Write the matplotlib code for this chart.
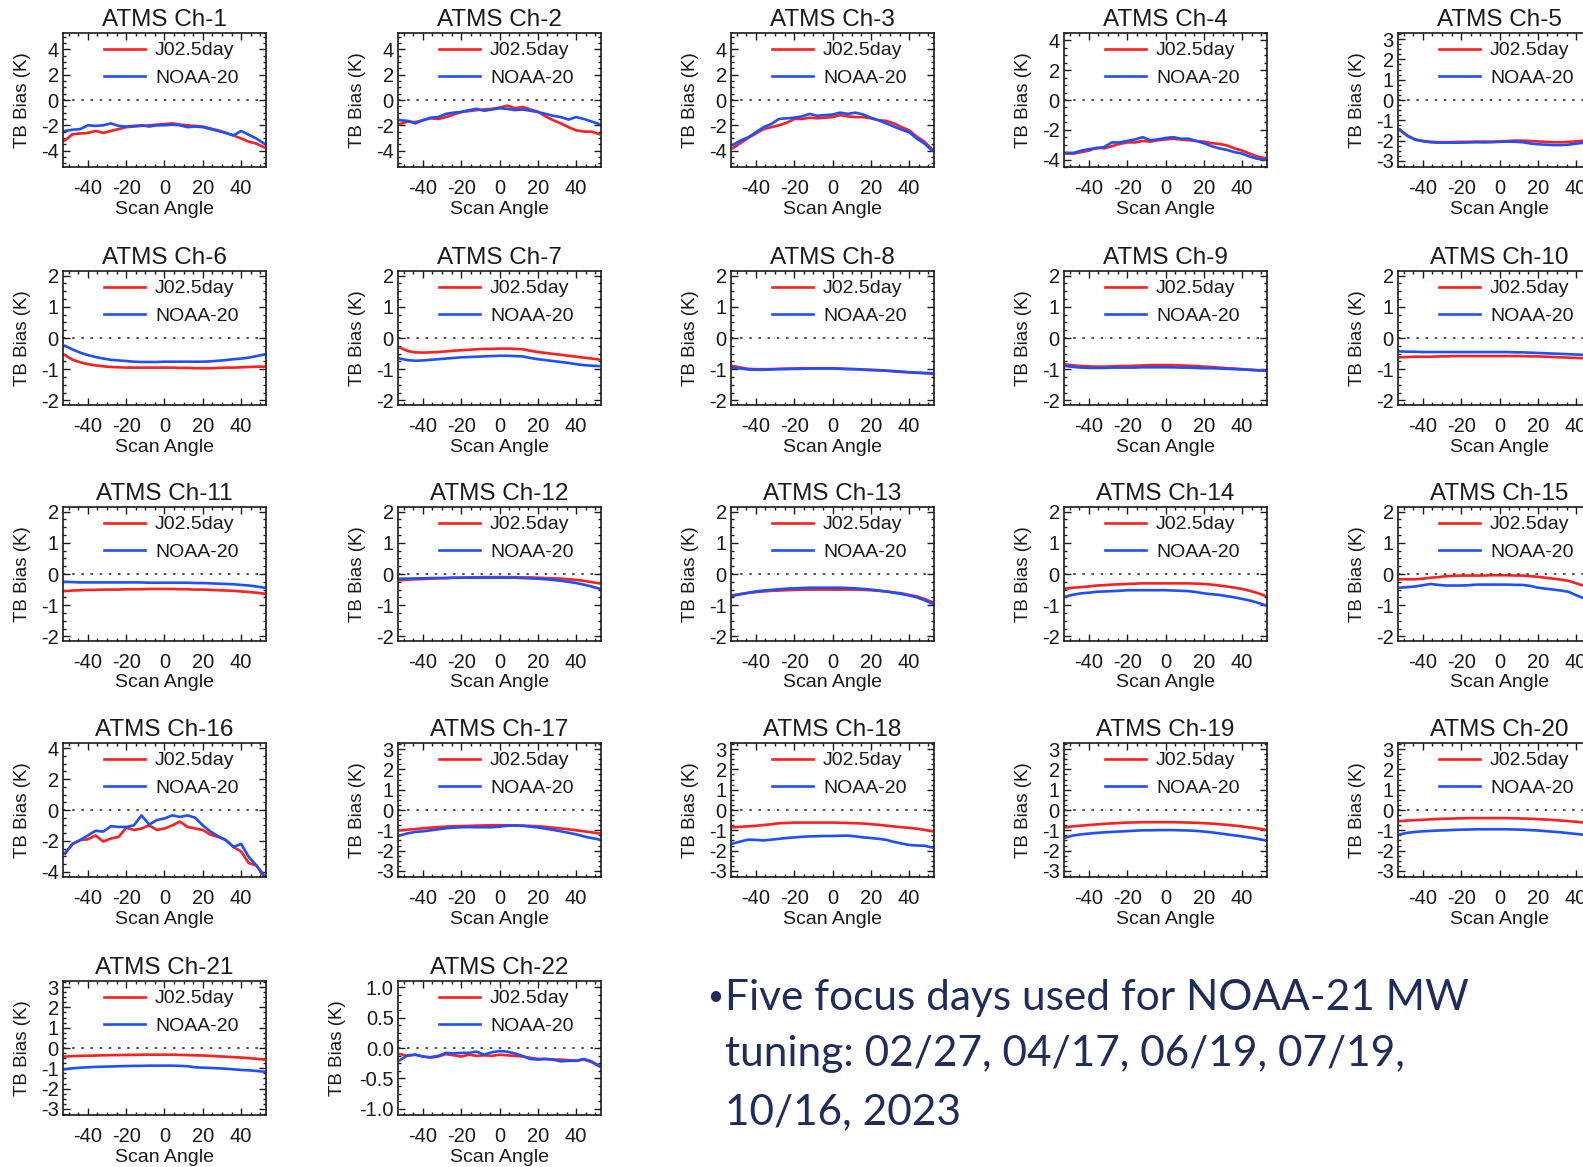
import matplotlib
matplotlib.use("Agg")
import matplotlib.pyplot as plt
from matplotlib.ticker import FixedLocator, MultipleLocator, AutoMinorLocator

plt.rcParams['font.family'] = ['Liberation Sans', 'DejaVu Sans']
plt.rcParams['axes.unicode_minus'] = False

# scan angle grid (deg)
scan_angle = [-52, -48, -44, -40, -36, -32, -28, -24, -20, -16, -12, -8, -4, 0,
              4, 8, 12, 16, 20, 24, 28, 32, 36, 40, 44, 48, 52]

# TB bias (K), red = J02.5day, blue = NOAA-20
j02_ch1 = [-3.2, -2.7, -2.65, -2.6, -2.45, -2.6, -2.45, -2.3, -2.15, -2.1, -2.05, -2.0, -1.95, -1.9,
           -1.85, -1.95, -2.0, -2.05, -2.1, -2.25, -2.4, -2.6, -2.8, -3.05, -3.3, -3.45, -3.75]
n20_ch1 = [-2.45, -2.35, -2.3, -2.0, -2.05, -2.0, -1.85, -2.05, -2.1, -2.05, -2.0, -2.1, -2.0, -2.0,
           -1.95, -2.0, -2.15, -2.1, -2.15, -2.3, -2.45, -2.6, -2.8, -2.45, -2.75, -3.05, -3.45]
j02_ch2 = [-1.9, -1.7, -1.75, -1.6, -1.45, -1.5, -1.35, -1.15, -0.95, -0.88, -0.8, -0.75, -0.7, -0.6,
           -0.45, -0.65, -0.55, -0.75, -0.92, -1.3, -1.6, -1.85, -2.15, -2.4, -2.5, -2.5, -2.7]
n20_ch2 = [-1.6, -1.65, -1.85, -1.6, -1.4, -1.35, -1.1, -1.0, -0.95, -0.8, -0.7, -0.85, -0.75, -0.65,
           -0.7, -0.8, -0.75, -0.85, -0.95, -1.1, -1.25, -1.35, -1.55, -1.35, -1.5, -1.7, -1.9]
j02_ch3 = [-3.8, -3.4, -3.0, -2.65, -2.3, -2.15, -2.0, -1.8, -1.5, -1.5, -1.4, -1.45, -1.4, -1.35,
           -1.2, -1.3, -1.35, -1.35, -1.45, -1.6, -1.65, -1.85, -2.15, -2.4, -2.9, -3.3, -3.9]
n20_ch3 = [-3.55, -3.2, -2.95, -2.55, -2.15, -1.9, -1.5, -1.45, -1.4, -1.3, -1.1, -1.25, -1.2, -1.15,
           -1.0, -1.1, -1.0, -1.15, -1.4, -1.6, -1.85, -2.1, -2.35, -2.55, -3.05, -3.45, -4.0]
j02_ch4 = [-3.6, -3.6, -3.5, -3.4, -3.2, -3.25, -3.1, -2.95, -2.85, -2.85, -2.75, -2.8, -2.7, -2.65,
           -2.6, -2.65, -2.7, -2.75, -2.8, -2.9, -2.95, -3.05, -3.25, -3.4, -3.6, -3.8, -3.9]
n20_ch4 = [-3.55, -3.55, -3.4, -3.3, -3.25, -3.15, -2.85, -2.85, -2.75, -2.65, -2.5, -2.7, -2.65, -2.55,
           -2.5, -2.6, -2.6, -2.75, -2.9, -3.1, -3.25, -3.35, -3.5, -3.6, -3.8, -3.95, -4.0]
j02_ch5 = [-1.5, -1.75, -1.95, -2.02, -2.06, -2.08, -2.08, -2.07, -2.06, -2.06, -2.05, -2.05, -2.05, -2.04,
           -2.02, -2.0, -2.0, -2.02, -2.04, -2.06, -2.08, -2.08, -2.06, -2.04, -2.0, -1.95, -1.9]
n20_ch5 = [-1.45, -1.78, -1.95, -2.03, -2.08, -2.1, -2.1, -2.1, -2.1, -2.09, -2.08, -2.09, -2.08, -2.06,
           -2.05, -2.06, -2.08, -2.14, -2.18, -2.2, -2.22, -2.22, -2.2, -2.15, -2.1, -2.05, -1.98]
j02_ch6 = [-0.55, -0.7, -0.78, -0.84, -0.88, -0.91, -0.93, -0.94, -0.95, -0.95, -0.95, -0.95, -0.95, -0.95,
           -0.95, -0.96, -0.96, -0.97, -0.97, -0.97, -0.96, -0.95, -0.95, -0.94, -0.93, -0.92, -0.92]
n20_ch6 = [-0.25, -0.37, -0.47, -0.55, -0.61, -0.66, -0.7, -0.72, -0.74, -0.76, -0.77, -0.77, -0.77, -0.76,
           -0.76, -0.76, -0.76, -0.76, -0.76, -0.75, -0.73, -0.71, -0.68, -0.66, -0.63, -0.58, -0.53]
j02_ch7 = [-0.31, -0.42, -0.46, -0.47, -0.46, -0.45, -0.43, -0.41, -0.39, -0.38, -0.36, -0.35, -0.35, -0.34,
           -0.34, -0.35, -0.36, -0.41, -0.45, -0.48, -0.51, -0.54, -0.57, -0.6, -0.63, -0.66, -0.69]
n20_ch7 = [-0.66, -0.71, -0.73, -0.72, -0.7, -0.68, -0.66, -0.64, -0.62, -0.61, -0.6, -0.59, -0.58, -0.57,
           -0.57, -0.58, -0.59, -0.64, -0.68, -0.71, -0.74, -0.77, -0.8, -0.84, -0.87, -0.89, -0.9]
j02_ch8 = [-0.9, -0.95, -0.99, -1.0, -1.0, -1.0, -0.99, -0.98, -0.98, -0.97, -0.97, -0.97, -0.97, -0.97,
           -0.98, -0.99, -1.0, -1.01, -1.02, -1.03, -1.05, -1.07, -1.09, -1.1, -1.12, -1.13, -1.15]
n20_ch8 = [-0.95, -0.98, -1.01, -1.02, -1.02, -1.01, -1.0, -1.0, -0.99, -0.99, -0.98, -0.98, -0.98, -0.98,
           -0.99, -1.0, -1.0, -1.02, -1.03, -1.04, -1.05, -1.06, -1.08, -1.1, -1.11, -1.12, -1.13]
j02_ch9 = [-0.85, -0.88, -0.9, -0.91, -0.92, -0.92, -0.91, -0.9, -0.9, -0.89, -0.88, -0.87, -0.87, -0.87,
           -0.87, -0.88, -0.89, -0.9, -0.92, -0.93, -0.95, -0.97, -0.98, -1.0, -1.02, -1.03, -1.05]
n20_ch9 = [-0.9, -0.93, -0.95, -0.96, -0.96, -0.96, -0.95, -0.95, -0.95, -0.95, -0.94, -0.94, -0.94, -0.94,
           -0.94, -0.95, -0.95, -0.96, -0.97, -0.97, -0.98, -0.99, -1.0, -1.01, -1.02, -1.04, -1.05]
j02_ch10 = [-0.62, -0.61, -0.6, -0.6, -0.6, -0.59, -0.59, -0.58, -0.58, -0.58, -0.58, -0.58, -0.58, -0.58,
            -0.58, -0.58, -0.58, -0.59, -0.59, -0.6, -0.61, -0.62, -0.63, -0.64, -0.65, -0.67, -0.69]
n20_ch10 = [-0.43, -0.44, -0.44, -0.45, -0.45, -0.45, -0.45, -0.45, -0.45, -0.45, -0.45, -0.45, -0.45, -0.45,
            -0.45, -0.46, -0.46, -0.47, -0.48, -0.49, -0.5, -0.51, -0.52, -0.53, -0.54, -0.55, -0.56]
j02_ch11 = [-0.55, -0.53, -0.52, -0.51, -0.51, -0.5, -0.5, -0.5, -0.49, -0.49, -0.49, -0.48, -0.48, -0.48,
            -0.48, -0.49, -0.49, -0.5, -0.5, -0.51, -0.52, -0.53, -0.54, -0.56, -0.58, -0.6, -0.63]
n20_ch11 = [-0.25, -0.26, -0.27, -0.27, -0.27, -0.27, -0.27, -0.27, -0.27, -0.27, -0.27, -0.28, -0.28, -0.28,
            -0.28, -0.28, -0.28, -0.29, -0.29, -0.3, -0.31, -0.32, -0.33, -0.35, -0.37, -0.4, -0.44]
j02_ch12 = [-0.2, -0.18, -0.17, -0.16, -0.15, -0.14, -0.13, -0.12, -0.12, -0.11, -0.11, -0.1, -0.1, -0.1,
            -0.1, -0.1, -0.11, -0.11, -0.12, -0.13, -0.14, -0.15, -0.17, -0.19, -0.22, -0.26, -0.3]
n20_ch12 = [-0.15, -0.15, -0.14, -0.14, -0.13, -0.13, -0.13, -0.12, -0.12, -0.12, -0.12, -0.12, -0.12, -0.12,
            -0.12, -0.12, -0.13, -0.14, -0.15, -0.17, -0.19, -0.22, -0.25, -0.29, -0.34, -0.4, -0.47]
j02_ch13 = [-0.68, -0.64, -0.61, -0.58, -0.56, -0.54, -0.53, -0.52, -0.51, -0.5, -0.5, -0.5, -0.5, -0.5,
            -0.5, -0.5, -0.5, -0.51, -0.52, -0.54, -0.56, -0.59, -0.62, -0.67, -0.72, -0.8, -0.9]
n20_ch13 = [-0.7, -0.65, -0.6, -0.56, -0.53, -0.51, -0.49, -0.47, -0.46, -0.45, -0.44, -0.44, -0.44, -0.44,
            -0.44, -0.45, -0.46, -0.48, -0.5, -0.53, -0.56, -0.6, -0.64, -0.69, -0.75, -0.84, -0.95]
j02_ch14 = [-0.47, -0.44, -0.42, -0.4, -0.37, -0.36, -0.34, -0.33, -0.32, -0.31, -0.3, -0.3, -0.3, -0.3,
            -0.3, -0.3, -0.3, -0.31, -0.32, -0.34, -0.37, -0.4, -0.44, -0.48, -0.54, -0.61, -0.7]
n20_ch14 = [-0.72, -0.66, -0.62, -0.6, -0.57, -0.56, -0.55, -0.54, -0.52, -0.52, -0.52, -0.52, -0.52, -0.52,
            -0.53, -0.54, -0.55, -0.58, -0.62, -0.65, -0.67, -0.71, -0.75, -0.8, -0.85, -0.92, -1.0]
j02_ch15 = [-0.17, -0.17, -0.17, -0.15, -0.12, -0.1, -0.07, -0.06, -0.05, -0.05, -0.05, -0.05, -0.04, -0.04,
            -0.04, -0.05, -0.05, -0.07, -0.09, -0.12, -0.15, -0.18, -0.22, -0.3, -0.38, -0.46, -0.55]
n20_ch15 = [-0.44, -0.42, -0.4, -0.36, -0.32, -0.35, -0.37, -0.37, -0.37, -0.36, -0.34, -0.34, -0.34, -0.34,
            -0.34, -0.35, -0.35, -0.38, -0.44, -0.47, -0.5, -0.53, -0.57, -0.68, -0.78, -0.88, -0.98]
j02_ch16 = [-2.85, -2.2, -1.95, -1.9, -1.65, -2.05, -1.85, -1.75, -1.15, -1.3, -1.2, -1.0, -1.3, -1.2,
            -1.0, -0.75, -1.1, -1.2, -1.3, -1.6, -1.75, -1.95, -2.4, -2.7, -3.45, -3.6, -4.35]
n20_ch16 = [-2.8, -2.2, -1.95, -1.65, -1.35, -1.4, -1.05, -1.1, -1.1, -1.0, -0.35, -0.95, -0.65, -0.55,
            -0.35, -0.45, -0.35, -0.5, -1.0, -1.4, -1.7, -1.95, -2.4, -2.2, -3.05, -3.6, -4.25]
j02_ch17 = [-1.0, -0.97, -0.94, -0.9, -0.87, -0.84, -0.82, -0.8, -0.79, -0.78, -0.77, -0.76, -0.75, -0.75,
            -0.75, -0.76, -0.77, -0.78, -0.8, -0.83, -0.87, -0.91, -0.95, -1.0, -1.05, -1.1, -1.15]
n20_ch17 = [-1.25, -1.15, -1.08, -1.05, -1.0, -0.95, -0.9, -0.87, -0.85, -0.84, -0.85, -0.85, -0.85, -0.82,
            -0.78, -0.76, -0.78, -0.82, -0.86, -0.92, -0.98, -1.05, -1.12, -1.2, -1.3, -1.38, -1.45]
j02_ch18 = [-0.85, -0.83, -0.8, -0.78, -0.74, -0.7, -0.65, -0.64, -0.62, -0.62, -0.62, -0.62, -0.62, -0.62,
            -0.63, -0.64, -0.65, -0.67, -0.7, -0.73, -0.77, -0.81, -0.85, -0.88, -0.92, -0.98, -1.05]
n20_ch18 = [-1.65, -1.55, -1.46, -1.47, -1.5, -1.46, -1.42, -1.38, -1.35, -1.32, -1.3, -1.29, -1.28, -1.28,
            -1.27, -1.26, -1.3, -1.35, -1.38, -1.42, -1.47, -1.57, -1.65, -1.72, -1.75, -1.76, -1.85]
j02_ch19 = [-0.85, -0.8, -0.77, -0.74, -0.71, -0.68, -0.66, -0.64, -0.62, -0.61, -0.6, -0.6, -0.6, -0.6,
            -0.6, -0.61, -0.62, -0.63, -0.65, -0.67, -0.7, -0.73, -0.77, -0.81, -0.86, -0.91, -0.97]
n20_ch19 = [-1.35, -1.25, -1.2, -1.16, -1.13, -1.1, -1.08, -1.06, -1.04, -1.02, -1.0, -1.0, -0.99, -0.99,
            -0.99, -1.0, -1.01, -1.03, -1.06, -1.1, -1.15, -1.2, -1.25, -1.3, -1.36, -1.42, -1.5]
j02_ch20 = [-0.55, -0.52, -0.5, -0.48, -0.46, -0.44, -0.43, -0.42, -0.41, -0.4, -0.4, -0.4, -0.4, -0.4,
            -0.4, -0.41, -0.42, -0.43, -0.45, -0.47, -0.49, -0.52, -0.55, -0.58, -0.62, -0.66, -0.7]
n20_ch20 = [-1.2, -1.12, -1.08, -1.05, -1.03, -1.01, -1.0, -0.98, -0.97, -0.96, -0.95, -0.95, -0.95, -0.95,
            -0.95, -0.96, -0.97, -0.99, -1.01, -1.04, -1.07, -1.1, -1.14, -1.18, -1.22, -1.26, -1.3]
j02_ch21 = [-0.42, -0.4, -0.39, -0.38, -0.37, -0.36, -0.35, -0.35, -0.34, -0.34, -0.33, -0.33, -0.33, -0.33,
            -0.33, -0.34, -0.35, -0.36, -0.37, -0.39, -0.41, -0.43, -0.45, -0.47, -0.5, -0.53, -0.57]
n20_ch21 = [-1.05, -1.0, -0.97, -0.95, -0.93, -0.92, -0.91, -0.9, -0.89, -0.88, -0.88, -0.87, -0.87, -0.87,
            -0.87, -0.88, -0.9, -0.95, -0.97, -0.98, -1.0, -1.02, -1.05, -1.08, -1.1, -1.13, -1.17]
j02_ch22 = [-0.1, -0.13, -0.11, -0.14, -0.16, -0.14, -0.1, -0.12, -0.14, -0.11, -0.13, -0.12, -0.13, -0.11,
            -0.12, -0.13, -0.14, -0.16, -0.18, -0.18, -0.19, -0.19, -0.2, -0.21, -0.19, -0.23, -0.3]
n20_ch22 = [-0.2, -0.12, -0.11, -0.14, -0.15, -0.13, -0.08, -0.09, -0.08, -0.08, -0.06, -0.11, -0.07, -0.05,
            -0.06, -0.09, -0.13, -0.18, -0.19, -0.18, -0.19, -0.22, -0.21, -0.21, -0.18, -0.22, -0.29]

j02 = [j02_ch1, j02_ch2, j02_ch3, j02_ch4, j02_ch5, j02_ch6, j02_ch7, j02_ch8, j02_ch9, j02_ch10, j02_ch11,
       j02_ch12, j02_ch13, j02_ch14, j02_ch15, j02_ch16, j02_ch17, j02_ch18, j02_ch19, j02_ch20, j02_ch21, j02_ch22]
n20 = [n20_ch1, n20_ch2, n20_ch3, n20_ch4, n20_ch5, n20_ch6, n20_ch7, n20_ch8, n20_ch9, n20_ch10, n20_ch11,
       n20_ch12, n20_ch13, n20_ch14, n20_ch15, n20_ch16, n20_ch17, n20_ch18, n20_ch19, n20_ch20, n20_ch21, n20_ch22]

# y range and ticks per channel
y_half = [5.3, 5.3, 5.3, 4.5, 3.3, 2.15, 2.15, 2.15, 2.15, 2.15, 2.15, 2.15, 2.15, 2.15, 2.15,
          4.35, 3.3, 3.3, 3.3, 3.3, 3.3, 1.1]
ticks_4 = [-4, -2, 0, 2, 4]
ticks_3 = [-3, -2, -1, 0, 1, 2, 3]
ticks_2 = [-2, -1, 0, 1, 2]
ticks_1 = [-1.0, -0.5, 0.0, 0.5, 1.0]
y_ticks = [ticks_4] * 4 + [ticks_3] + [ticks_2] * 10 + [ticks_4] + [ticks_3] * 5 + [ticks_1]

W, H = 1583, 1167
fig = plt.figure(figsize=(W / 100, H / 100), dpi=100)

col_left = [63, 398, 731, 1064, 1398]
row_top = [33, 271, 507, 743, 981]
aw, ah = 203, 134
txt = '#1a1a1a'

for i in range(22):
    r, c = divmod(i, 5)
    ax = fig.add_axes([col_left[c] / W, 1 - (row_top[r] + ah) / H, aw / W, ah / H])
    ax.plot(scan_angle, j02[i], color='#ff2020', lw=1.9, label='J02.5day')
    ax.plot(scan_angle, n20[i], color='#1f4fff', lw=1.9, label='NOAA-20')
    ax.axhline(0, color='#333333', lw=1.2, ls=(0, (1.5, 4)))
    ax.set_xlim(-53, 53)
    ax.set_ylim(-y_half[i], y_half[i])
    ax.xaxis.set_major_locator(FixedLocator([-40, -20, 0, 20, 40]))
    ax.xaxis.set_minor_locator(MultipleLocator(5))
    ax.yaxis.set_major_locator(FixedLocator(y_ticks[i]))
    ax.yaxis.set_minor_locator(AutoMinorLocator(4))
    if i == 21:
        ax.set_yticklabels(['%.1f' % v for v in y_ticks[i]])
    else:
        ax.set_yticklabels(['%d' % v for v in y_ticks[i]])
    ax.tick_params(which='both', direction='in', top=True, right=True, colors=txt, width=1.0)
    ax.tick_params(which='major', length=5, labelsize=14.5)
    ax.tick_params(which='minor', length=2.5)
    ax.tick_params(axis='x', pad=9)
    ax.tick_params(axis='y', pad=3)
    for s in ax.spines.values():
        s.set_linewidth(1.2)
        s.set_color(txt)
    ax.set_title('ATMS Ch-%d' % (i + 1), fontsize=17.5, pad=5, color=txt)
    ax.set_xlabel('Scan Angle', fontsize=14, color=txt)
    ax.xaxis.set_label_coords(0.5, -0.25)
    ax.set_ylabel('TB Bias (K)', fontsize=13.5, color=txt)
    ax.yaxis.set_label_coords(-0.255 if i == 21 else -0.158, 0.5)
    ax.legend(loc='upper left', bbox_to_anchor=(0.2, 0.935), frameon=False, fontsize=14,
              handlelength=2.15, handletextpad=0.5, labelspacing=0.5,
              borderpad=0, borderaxespad=0, labelcolor=txt)

navy = '#1f2d5e'
fam = ['Lato', 'DejaVu Sans']
fig.text(707 / W, 1 - 997 / H, '\u2022', fontsize=20, family=fam, color=navy, va='center')
fig.text(725 / W, 1 - 998 / H, 'Five focus days used for NOAA-21 MW', fontsize=30.5,
         family=fam, color=navy, va='center')
fig.text(725 / W, 1 - 1054 / H, 'tuning: 02/27, 04/17, 06/19, 07/19,', fontsize=30.5,
         family=fam, color=navy, va='center')
fig.text(725 / W, 1 - 1112 / H, '10/16, 2023', fontsize=30.5,
         family=fam, color=navy, va='center')

fig.savefig('out.png', dpi=100)
